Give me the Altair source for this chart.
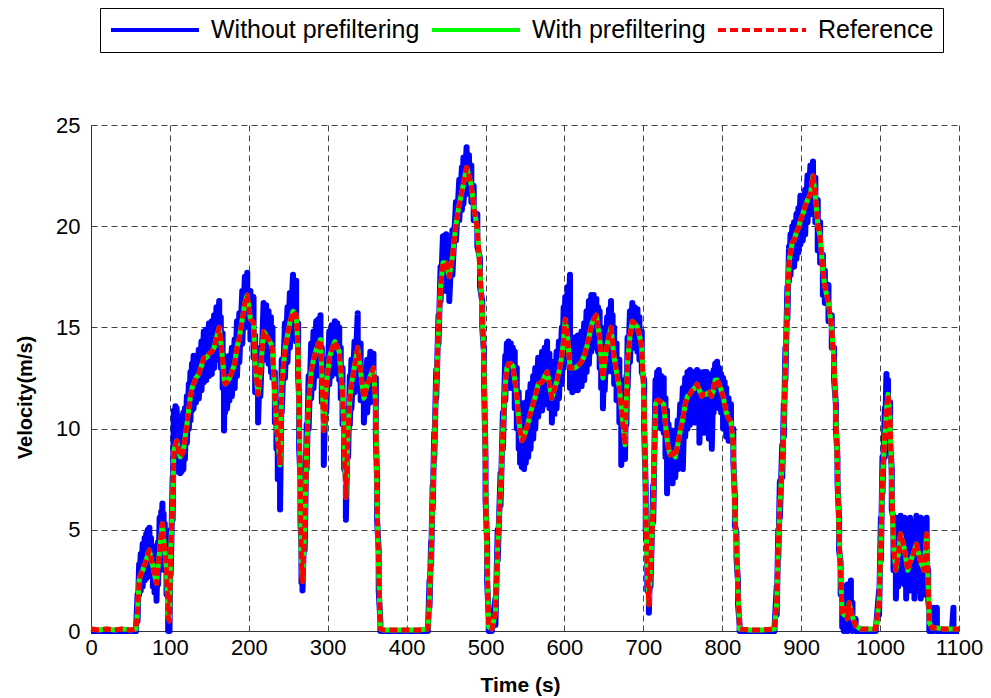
import altair as alt
import pandas as pd

# ---- data ----
series_names = ["Without prefiltering", "With prefiltering", "Reference"]

time_s = [
    0, 10, 20, 30, 40, 50, 57, 59, 61, 63,
    65.5, 68, 70, 72, 74, 76, 78.4, 80.5, 83, 85,
    87, 89, 90.5, 92, 93.5, 95.7, 97.8, 99.5, 101, 103.5,
    105, 107, 108.6, 111, 113, 115, 117, 119, 121.5, 124,
    126, 128, 130, 133, 136.6, 140, 143, 146, 149.6, 153,
    156, 159, 162.5, 164.5, 166.8, 168.5, 170, 172.5, 175.4, 178.5,
    182, 185, 188, 191.7, 195, 198, 202, 206, 208, 211.7,
    214.6, 218.75, 222, 225, 228, 230, 233, 235, 236.7, 239.6,
    241.7, 245.8, 249, 252, 256, 260, 262.5, 263.75, 265.4, 266.7,
    268, 270.8, 273.3, 275.8, 279, 282, 285.4, 288, 290.8, 292.5,
    295, 298, 302, 305, 309, 312, 314.6, 316.5, 318.75, 320.8,
    323, 325.8, 328, 330, 334, 338, 341.7, 345.8, 350, 354,
    358, 361, 362.5, 364.6, 366.7, 370, 385, 400, 415, 427,
    429, 431, 433, 435, 437.5, 440.4, 443, 446, 450, 454,
    458, 462.5, 466.7, 470, 472, 476, 479, 482, 485, 489.6,
    493, 495.8, 498, 500, 502, 504, 508, 512.5, 515.4, 519,
    522, 525, 527, 529, 532, 534.6, 537, 539.6, 542, 543.75,
    546, 548.75, 551, 554, 557, 560.4, 563, 566.7, 571.7, 575,
    578, 581, 584, 587, 590, 593, 596.7, 599, 601, 604,
    607, 610, 613, 617, 621.7, 625, 628, 631, 634, 637,
    640.4, 642.5, 644.6, 646.5, 648.75, 651, 654, 656.5, 659, 661,
    663, 666, 669.6, 672, 673.75, 676.7, 678.5, 680, 683, 686,
    689, 692.5, 695, 698, 701, 703, 705, 707, 709, 712.5,
    715.4, 717.5, 719.6, 722.5, 725.8, 728, 730, 732, 734, 737,
    740.4, 743.5, 746.7, 750, 753, 756, 759, 762, 765, 768,
    771, 774, 777, 780, 783, 786.7, 789, 791, 793.5, 796,
    798.5, 801, 803, 805, 808, 811, 814, 816, 818, 820,
    822, 835, 850, 866, 869, 871, 873, 876, 878, 880,
    882.5, 884.6, 886.5, 888.75, 891, 894, 896.5, 899, 902, 905,
    908, 911.7, 915, 918, 921, 924, 927.5, 930, 934.6, 938.75,
    941.7, 944, 946, 948, 950, 952, 954, 956.5, 958.5, 960.8,
    963, 965, 969, 975.5, 985, 994.5, 998.7, 1001, 1003, 1006,
    1008, 1010, 1012.7, 1014.8, 1017, 1020, 1023, 1026, 1028.5, 1031,
    1033, 1035, 1038, 1041, 1043.5, 1046, 1049, 1051.5, 1055.7, 1059,
    1061, 1062.4, 1066, 1068, 1072, 1080, 1091, 1093, 1100,
]

reference_speed = [
    0.1, 0.05, 0.1, 0.05, 0.1, 0.05, 0.1, 1.0, 2.5, 2.8,
    3.0, 3.3, 3.5, 3.8, 4.0, 3.6, 3.2, 2.8, 2.35, 3.2,
    4.0, 4.8, 5.3, 4.6, 4.0, 3.0, 0.7, 0.5, 4.0, 6.5,
    8.9, 9.2, 9.4, 8.9, 8.6, 8.7, 8.9, 9.5, 10.2, 11.0,
    11.6, 12.0, 12.2, 12.5, 12.7, 13.1, 13.5, 13.5, 13.7, 13.8,
    14.0, 14.5, 15.0, 14.3, 13.4, 12.5, 12.2, 12.3, 12.5, 12.8,
    13.2, 14.0, 14.5, 15.4, 16.2, 16.6, 15.4, 15.25, 13.1, 11.7,
    12.8, 14.8, 14.6, 14.4, 14.2, 13.9, 11.5, 10.2, 9.5, 8.2,
    12.2, 13.9, 14.6, 15.25, 15.8, 15.6, 13.9, 10.4, 6.6, 3.3,
    2.45, 5.0, 9.05, 11.3, 12.8, 13.4, 13.9, 14.2, 14.4, 12.8,
    9.9, 12.0, 13.5, 13.9, 14.3, 14.0, 13.8, 12.8, 11.8, 9.5,
    6.6, 9.9, 11.5, 12.2, 13.1, 14.0, 12.8, 11.5, 12.15, 12.6,
    13.0, 11.0, 6.3, 3.0, 0.1, 0.05, 0.05, 0.05, 0.05, 0.1,
    1.7, 3.8, 6.6, 9.1, 12.2, 14.9, 17.0, 18.2, 18.2, 17.5,
    18.5, 20.1, 21.1, 21.7, 22.1, 22.9, 22.5, 22.0, 21.0, 19.8,
    17.8, 15.7, 13.2, 7.5, 3.3, 0.2, 0.1, 0.9, 4.2, 7.0,
    9.9, 12.2, 13.0, 13.2, 13.2, 13.1, 12.4, 11.6, 10.5, 9.9,
    9.4, 9.6, 9.9, 10.3, 10.8, 11.25, 11.6, 12.2, 12.3, 12.6,
    12.8, 12.2, 11.5, 11.9, 12.3, 12.8, 13.6, 14.4, 15.4, 14.5,
    13.0, 13.0, 13.0, 13.1, 13.3, 13.6, 14.0, 14.5, 15.1, 15.4,
    15.6, 15.0, 14.5, 13.4, 12.5, 13.3, 14.1, 14.6, 15.0, 14.2,
    13.5, 12.8, 12.0, 11.0, 10.4, 9.2, 11.5, 13.3, 14.6, 15.3,
    15.2, 15.0, 14.6, 14.0, 11.2, 5.9, 3.0, 1.3, 3.0, 6.3,
    11.2, 11.4, 11.4, 11.3, 11.2, 10.2, 9.5, 9.0, 8.7, 8.8,
    8.6, 9.2, 9.9, 10.5, 11.2, 11.6, 11.7, 11.9, 12.0, 12.2,
    11.9, 11.6, 11.7, 11.7, 11.8, 11.6, 12.0, 12.4, 12.4, 12.2,
    11.9, 11.6, 11.2, 10.8, 10.5, 10.3, 9.1, 5.8, 4.2, 1.9,
    0.1, 0.05, 0.05, 0.1, 1.4, 4.2, 6.3, 8.3, 10.3, 13.2,
    16.2, 18.2, 18.7, 19.2, 19.3, 19.7, 19.9, 20.3, 20.6, 21.0,
    21.3, 21.6, 22.5, 21.5, 20.1, 19.5, 17.8, 17.0, 16.2, 14.9,
    13.2, 10.6, 8.0, 4.7, 2.7, 0.9, 0.8, 1.1, 0.6, 1.4,
    1.0, 0.7, 0.25, 0.1, 0.1, 0.1, 1.4, 4.3, 7.6, 9.6,
    10.8, 11.7, 10.4, 7.1, 4.2, 3.0, 3.8, 4.8, 4.4, 4.0,
    3.5, 3.0, 3.4, 3.7, 4.0, 4.3, 3.8, 3.4, 3.0, 4.8,
    2.2, 0.4, 0.15, 0.15, 0.15, 0.1, 0.1, 0.1, 0.1,
]

# the prefiltered response lies on top of the reference in the picture
with_prefiltering_speed = list(reference_speed)

# peaks and troughs of the oscillating response without prefiltering
without_prefiltering_high = [
    0, 0, 0, 0, 0, 0, 0, 1.8, 3.3, 3.8,
    4.3, 4.6, 4.8, 5.0, 5.1, 4.6, 4.2, 3.8, 3.4, 4.4,
    5.6, 5.9, 6.3, 5.8, 5.3, 4.2, 2.0, 1.0, 5.0, 7.6,
    10.9, 11.1, 11.0, 10.6, 10.2, 10.4, 10.8, 11.0, 11.6, 12.2,
    12.8, 13.2, 13.6, 13.6, 13.9, 14.3, 14.8, 14.9, 15.2, 15.3,
    15.6, 16.0, 16.3, 15.5, 14.7, 13.6, 13.3, 13.4, 13.6, 14.0,
    14.4, 15.3, 15.7, 16.8, 17.5, 17.7, 16.8, 16.5, 14.6, 13.0,
    14.0, 16.2, 16.1, 15.8, 15.5, 15.0, 12.8, 11.3, 10.4, 9.6,
    13.4, 15.2, 16.0, 16.7, 17.6, 17.3, 15.2, 11.5, 7.6, 4.2,
    3.2, 6.0, 10.2, 12.6, 14.2, 14.8, 15.3, 15.4, 15.6, 14.0,
    11.2, 13.4, 14.8, 15.1, 15.3, 15.2, 15.0, 14.0, 13.0, 10.8,
    7.8, 11.0, 12.6, 13.4, 14.3, 15.7, 14.2, 12.8, 13.4, 13.8,
    13.7, 12.5, 7.5, 4.0, 0.5, 0, 0, 0, 0, 0,
    2.5, 4.4, 7.2, 9.8, 12.9, 15.6, 18.0, 19.5, 19.6, 19.0,
    19.8, 21.2, 22.3, 22.9, 23.4, 23.9, 23.5, 23.0, 22.0, 20.6,
    18.4, 16.3, 13.8, 8.5, 4.3, 0.6, 0, 1.6, 5.0, 7.8,
    10.8, 13.6, 14.2, 14.3, 14.2, 14.0, 13.8, 13.0, 11.8, 11.3,
    10.8, 11.0, 11.3, 11.8, 12.2, 12.6, 13.0, 13.5, 13.8, 14.0,
    14.3, 13.7, 12.9, 13.3, 13.8, 14.3, 15.0, 16.0, 16.5, 17.0,
    17.6, 14.5, 14.5, 14.6, 14.8, 15.2, 15.8, 16.3, 16.6, 16.6,
    16.4, 16.0, 15.8, 15.0, 14.0, 14.8, 15.5, 15.9, 16.3, 15.6,
    15.0, 14.2, 13.4, 12.4, 11.6, 10.4, 12.6, 14.5, 15.8, 16.2,
    16.0, 15.9, 15.5, 14.8, 12.4, 7.0, 4.0, 2.0, 4.0, 7.2,
    12.4, 12.8, 12.9, 12.6, 12.5, 11.5, 10.9, 10.2, 9.9, 9.9,
    9.6, 10.4, 11.2, 12.0, 12.5, 12.8, 12.9, 12.6, 12.8, 12.9,
    12.8, 12.7, 12.8, 12.8, 12.6, 12.7, 12.9, 13.2, 13.3, 13.0,
    12.7, 12.5, 12.3, 12.0, 11.5, 11.2, 10.0, 6.6, 4.9, 2.4,
    0.3, 0, 0, 0, 2.2, 5.0, 7.4, 9.2, 11.2, 14.0,
    17.0, 19.0, 19.6, 20.0, 20.2, 20.6, 20.9, 21.5, 21.5, 21.8,
    22.5, 23.0, 23.2, 22.4, 21.3, 20.2, 18.6, 17.8, 17.1, 15.6,
    14.0, 11.2, 8.6, 5.5, 3.4, 1.8, 2.2, 2.0, 2.3, 2.0,
    2.5, 1.4, 0.6, 0, 0, 0, 2.0, 5.6, 8.6, 11.0,
    12.7, 12.4, 11.3, 8.0, 5.5, 5.6, 5.6, 5.7, 5.5, 5.6,
    5.2, 5.0, 5.6, 5.4, 5.2, 5.7, 5.2, 5.6, 4.6, 5.6,
    3.0, 1.0, 0, 1.15, 1.15, 0, 0, 1.15, 0,
]

without_prefiltering_low = [
    0, 0, 0, 0, 0, 0, 0, 0.5, 1.8, 2.0,
    2.2, 2.5, 2.6, 2.9, 3.0, 2.7, 2.2, 1.9, 1.5, 2.3,
    3.0, 3.8, 4.2, 3.6, 3.0, 1.8, 0.0, 0.0, 2.8, 5.5,
    7.8, 8.0, 8.3, 7.9, 7.8, 7.9, 8.0, 8.5, 9.3, 10.0,
    10.4, 10.9, 11.0, 11.3, 11.5, 11.9, 12.3, 12.4, 12.6, 12.7,
    13.0, 13.4, 13.8, 13.0, 12.0, 9.9, 10.8, 11.0, 11.4, 11.6,
    12.0, 12.6, 13.3, 14.2, 15.0, 15.3, 14.4, 13.5, 11.8, 10.3,
    11.6, 13.6, 13.4, 13.2, 12.8, 12.5, 10.3, 9.0, 7.5, 6.0,
    10.8, 12.5, 13.3, 14.0, 14.6, 14.3, 12.6, 9.0, 5.4, 2.4,
    2.0, 4.0, 8.0, 10.0, 11.5, 12.0, 12.6, 12.9, 13.0, 11.3,
    8.2, 10.8, 12.2, 12.6, 13.0, 12.7, 12.4, 11.5, 10.2, 8.0,
    5.5, 8.6, 10.2, 11.0, 11.8, 12.6, 11.4, 10.3, 10.8, 11.3,
    11.6, 9.6, 5.5, 2.0, 0, 0, 0, 0, 0, 0,
    1.2, 3.3, 6.0, 8.5, 11.5, 14.2, 16.3, 17.0, 16.8, 16.3,
    17.6, 19.3, 20.3, 20.8, 21.1, 21.6, 21.7, 21.2, 20.3, 19.0,
    17.0, 15.0, 12.5, 6.5, 2.5, 0, 0, 0.3, 3.5, 6.2,
    9.0, 11.4, 12.0, 12.3, 12.0, 12.0, 11.0, 10.0, 9.0, 8.3,
    8.1, 8.0, 8.3, 8.6, 9.0, 9.5, 10.0, 10.6, 10.9, 11.2,
    11.4, 11.0, 10.3, 10.6, 11.0, 11.5, 12.2, 13.0, 13.6, 13.3,
    12.0, 11.8, 11.9, 11.9, 12.1, 12.4, 12.8, 13.2, 13.8, 14.0,
    14.4, 13.8, 13.0, 12.0, 11.0, 11.9, 12.8, 13.2, 13.6, 12.8,
    12.2, 11.4, 10.3, 8.2, 9.0, 8.5, 10.2, 12.0, 13.3, 14.2,
    14.0, 13.8, 13.4, 12.8, 10.0, 5.0, 2.0, 0.9, 2.2, 5.4,
    10.0, 10.2, 10.2, 10.0, 9.8, 8.6, 6.8, 7.8, 7.5, 7.3,
    7.6, 8.0, 8.6, 8.0, 9.6, 10.0, 10.2, 10.4, 10.3, 10.5,
    9.3, 10.0, 9.8, 10.4, 9.5, 9.0, 10.8, 11.2, 11.4, 11.0,
    10.8, 10.0, 10.0, 9.6, 9.4, 9.4, 8.4, 5.2, 3.6, 1.3,
    0, 0, 0, 0, 0.8, 3.6, 5.6, 7.6, 9.6, 12.4,
    15.4, 17.3, 17.6, 18.0, 18.0, 18.4, 18.7, 19.1, 19.3, 19.6,
    20.2, 20.6, 21.4, 20.2, 18.8, 18.2, 16.6, 16.2, 15.3, 14.0,
    12.4, 10.0, 7.4, 4.0, 1.8, 0.2, 0.0, 0.2, 0.0, 0.4,
    0.1, 0.0, 0, 0, 0, 0, 0.8, 3.5, 6.8, 8.6,
    9.8, 10.4, 9.3, 6.0, 3.0, 1.6, 2.2, 3.0, 2.4, 2.3,
    1.6, 2.0, 2.0, 2.2, 1.6, 2.6, 2.0, 1.6, 1.8, 3.3,
    1.5, 0, 0, 0, 0, 0, 0, 0, 0,
]

assert len(time_s) == len(reference_speed) == len(without_prefiltering_high) == len(without_prefiltering_low)

# ---- long table ----
rows = []
k = 0
for t, hi, lo in zip(time_s, without_prefiltering_high, without_prefiltering_low):
    rows.append({"time": t, "speed": hi, "series": series_names[0], "idx": k}); k += 1
    rows.append({"time": t, "speed": lo, "series": series_names[0], "idx": k}); k += 1
for t, v in zip(time_s, with_prefiltering_speed):
    rows.append({"time": t, "speed": v, "series": series_names[1], "idx": k}); k += 1
for t, v in zip(time_s, reference_speed):
    rows.append({"time": t, "speed": v, "series": series_names[2], "idx": k}); k += 1
df = pd.DataFrame(rows)

FONT = "Liberation Sans, Arial, sans-serif"

x_enc = alt.X(
    "time:Q",
    scale=alt.Scale(domain=[0, 1100], nice=False, zero=False),
    axis=alt.Axis(
        values=list(range(0, 1101, 100)), format="d", title="Time (s)",
        titleFont=FONT, titleFontSize=21, titleFontWeight="bold", titleColor="black",
        titleX=429, titleY=60, titleBaseline="alphabetic", titleAlign="center",
        labelFont=FONT, labelFontSize=22, labelColor="black", labelPadding=6,
        labelFlush=False, labelOverlap=False, ticks=False,
        domainColor="#333333", domainWidth=1,
        grid=True, gridDash=[6, 4], gridColor="#444444", gridOpacity=1, gridWidth=1,
    ),
)
y_enc = alt.Y(
    "speed:Q",
    scale=alt.Scale(domain=[0, 25], nice=False, zero=False),
    axis=alt.Axis(
        values=[0, 5, 10, 15, 20, 25], format="d", title="Velocity(m/s)",
        titleFont=FONT, titleFontSize=20, titleFontWeight="bold", titleColor="black",
        titleX=-56, titleY=272, titleAngle=-90, titleBaseline="bottom", titleAlign="center",
        labelFont=FONT, labelFontSize=22, labelColor="black", labelPadding=11,
        labelFlush=False, labelOverlap=False, ticks=False,
        domainColor="#333333", domainWidth=1,
        grid=True, gridDash=[6, 4], gridColor="#444444", gridOpacity=1, gridWidth=1,
    ),
)
legend = alt.Legend(
    title=None, orient="none", legendX=9, legendY=-117, direction="horizontal",
    symbolType="stroke", symbolSize=7744, symbolStrokeWidth=4, clipHeight=26,
    labelFont=FONT, labelFontSize=25, labelColor="black", labelLimit=400,
    labelOffset=10, columnPadding=10, padding=9,
    strokeColor="black", fillColor="white",
)
color_enc = alt.Color(
    "series:N",
    scale=alt.Scale(domain=series_names, range=["#0000ff", "#00ff00", "#ff0000"]),
    legend=legend,
)
dash_enc = alt.StrokeDash(
    "series:N",
    scale=alt.Scale(domain=series_names, range=[[1, 0], [1, 0], [8, 4]]),
    legend=legend,
)

widths = [6, 5, 5]
layers = []
for name, w in zip(series_names, widths):
    layers.append(
        alt.Chart(df)
        .transform_filter(alt.datum.series == name)
        .mark_line(strokeWidth=w, strokeJoin="round", strokeCap="butt")
        .encode(x=x_enc, y=y_enc, color=color_enc, strokeDash=dash_enc,
                order=alt.Order("idx:Q"))
    )

chart = (
    alt.layer(*layers)
    .properties(
        width=868, height=506,
        autosize=alt.AutoSizeParams(type="none"),
        padding={"left": 91, "top": 125, "right": 32, "bottom": 67},
        background="white",
    )
    .configure_view(stroke=None)
)

chart.save("out.html", embed_options={"renderer": "svg", "actions": False})
